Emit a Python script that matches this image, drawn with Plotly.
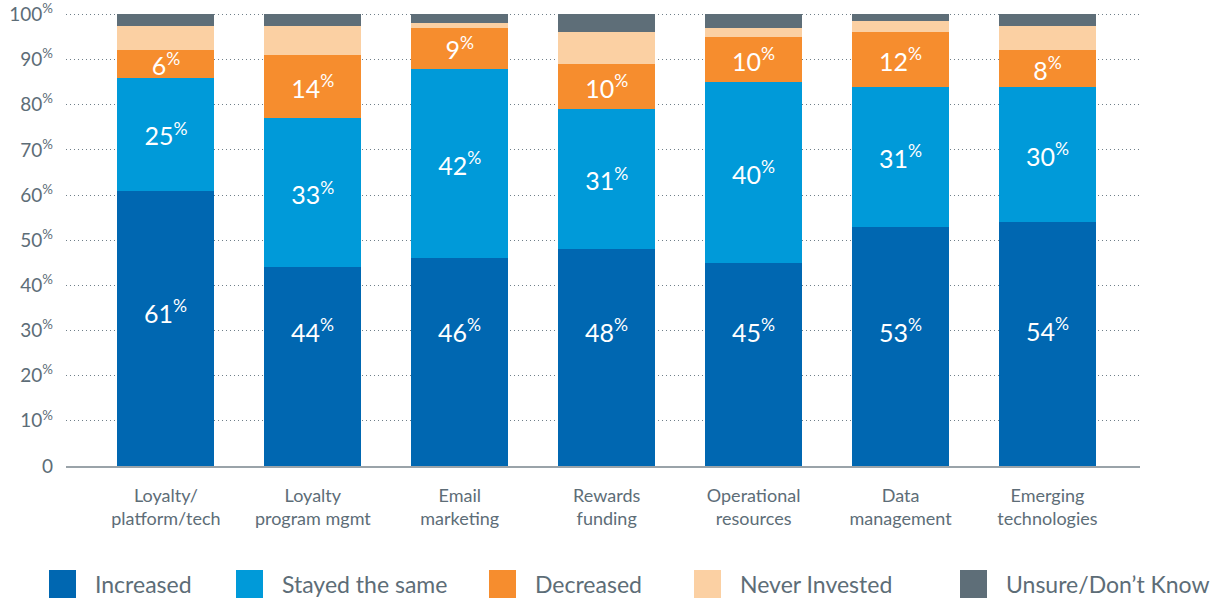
import plotly.graph_objects as go

categories = ["Loyalty/<br>platform/tech", "Loyalty<br>program mgmt", "Email<br>marketing",
              "Rewards<br>funding", "Operational<br>resources", "Data<br>management",
              "Emerging<br>technologies"]
increased = [61, 44, 46, 48, 45, 53, 54]
stayed_same = [25, 33, 42, 31, 40, 31, 30]
decreased = [6, 14, 9, 10, 10, 12, 8]
never_invested = [5.5, 6.5, 1, 7, 2, 2.5, 5.5]
unsure = [2.5, 2.5, 2, 4, 3, 1.5, 2.5]

series_names = ["Increased", "Stayed the same", "Decreased", "Never Invested", "Unsure/Don\u2019t Know"]
series_values = [increased, stayed_same, decreased, never_invested, unsure]
series_labelled = [False, True, True, False, False]
colors = ["#0067b1", "#009ad9", "#f68d2e", "#fbd0a3", "#5e6e78"]

y_ticks = [0, 10, 20, 30, 40, 50, 60, 70, 80, 90, 100]
y_ticktext = ["0"] + [f"{v}<sup>%</sup>" for v in y_ticks[1:]]

FONT = "Lato"
GREY = "#5d6d77"
LABEL_SIZE = 25

fig = go.Figure()
x_idx = list(range(len(categories)))
for name, vals, lab, col in zip(series_names, series_values, series_labelled, colors):
    fig.add_trace(go.Bar(
        x=x_idx, y=vals, name=name, marker=dict(color=col, line=dict(width=0)),
        width=0.66,
        text=[f"{v:g}<sup>%</sup>" for v in vals] if lab else None,
        textposition="inside" if lab else "none",
        insidetextanchor="middle",
        textangle=0,
        textfont=dict(family=FONT, size=LABEL_SIZE, color="white"),
        constraintext="none",
        showlegend=False,
    ))

# labels of the "Increased" segments sit in the upper part of the segment
for i, v in enumerate(increased):
    fig.add_annotation(x=i, y=max(30, 0.56 * v), text=f"{v}<sup>%</sup>", showarrow=False,
                       xanchor="center", yanchor="middle",
                       font=dict(family=FONT, size=LABEL_SIZE, color="white"))

fig.update_layout(
    barmode="stack",
    width=1225, height=598,
    margin=dict(l=66, r=85, t=13, b=132),
    paper_bgcolor="white", plot_bgcolor="white",
    font=dict(family=FONT, color=GREY),
    uniformtext=dict(mode=False),
    xaxis=dict(
        tickmode="array", tickvals=x_idx, ticktext=categories,
        range=[-0.68, 6.63], showgrid=False, zeroline=False,
        showline=True, linecolor="#9aa3a9", linewidth=2,
        ticks="", tickfont=dict(family=FONT, size=18, color=GREY),
        ticklabelstandoff=12, automargin=False,
    ),
    yaxis=dict(
        tickmode="array", tickvals=y_ticks, ticktext=y_ticktext,
        range=[0, 100.3], showgrid=True, gridcolor="#6f7f89", griddash="1px,3px", gridwidth=1.2,
        zeroline=False, showline=False, ticks="",
        tickfont=dict(family=FONT, size=19, color=GREY),
        ticklabelstandoff=12, automargin=False,
    ),
)

# custom legend (large square swatches)
legend_sq_x = [49, 236, 489, 694, 960]
for name, col, sx in zip(series_names, colors, legend_sq_x):
    fig.add_shape(type="rect", xref="paper", yref="paper",
                  x0=(sx - 66) / 1074, x1=(sx + 27 - 66) / 1074,
                  y0=(466 - 598) / 453, y1=(466 - 570) / 453,
                  fillcolor=col, line=dict(width=0))
    fig.add_annotation(xref="paper", yref="paper",
                       x=(sx + 44 - 66) / 1074, y=(466 - 584) / 453,
                       text=name, showarrow=False, xanchor="left", yanchor="middle",
                       font=dict(family=FONT, size=23, color=GREY))

fig.write_html("out.html")
